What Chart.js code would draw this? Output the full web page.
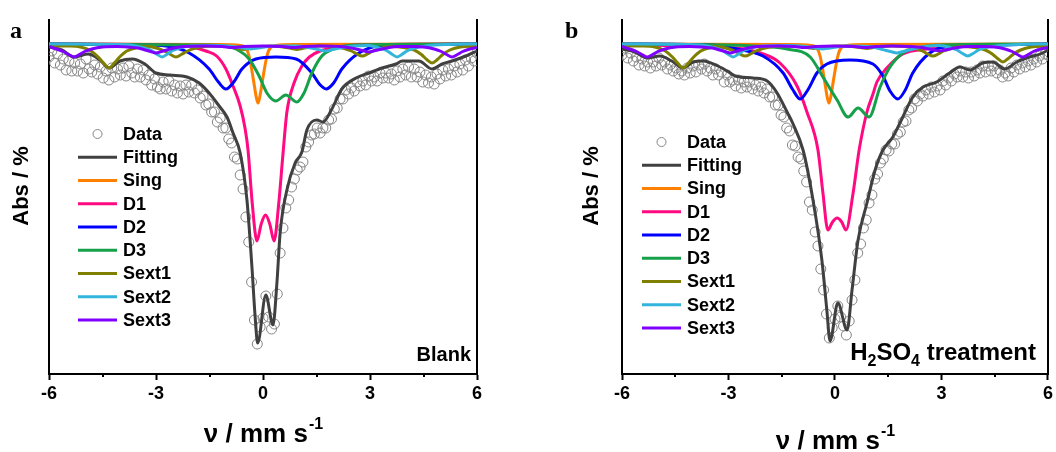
<!DOCTYPE html>
<html>
<head>
<meta charset="utf-8">
<script src="https://cdn.jsdelivr.net/npm/chart.js@4.4.1/dist/chart.umd.min.js"></script>
<style>
  body { margin: 0; background: #fff; width: 1056px; height: 452px; position: relative; overflow: hidden; }
  .panel { position: absolute; top: 0; width: 528px; height: 452px; }
</style>
</head>
<body>
<div class="panel" style="left:0"><canvas id="chartA"></canvas></div>
<div class="panel" style="left:528px"><canvas id="chartB"></canvas></div>
<script>
// velocity channels (mm/s) shared by both measured spectra
const velocity = [
  -6,-5.92,-5.84,-5.76,-5.68,-5.6,-5.52,-5.44,-5.36,-5.28,
  -5.2,-5.12,-5.04,-4.96,-4.88,-4.8,-4.72,-4.64,-4.56,-4.48,
  -4.4,-4.32,-4.24,-4.16,-4.08,-4,-3.92,-3.84,-3.76,-3.68,
  -3.6,-3.52,-3.44,-3.36,-3.28,-3.2,-3.12,-3.04,-2.96,-2.88,
  -2.8,-2.72,-2.64,-2.56,-2.48,-2.4,-2.32,-2.24,-2.16,-2.08,
  -2,-1.92,-1.84,-1.76,-1.68,-1.6,-1.52,-1.44,-1.36,-1.28,
  -1.2,-1.12,-1.04,-0.96,-0.88,-0.8,-0.72,-0.64,-0.56,-0.48,
  -0.4,-0.32,-0.24,-0.16,-0.08,0,0.08,0.16,0.24,0.32,
  0.4,0.48,0.56,0.64,0.72,0.8,0.88,0.96,1.04,1.12,
  1.2,1.28,1.36,1.44,1.52,1.6,1.68,1.76,1.84,1.92,
  2,2.08,2.16,2.24,2.32,2.4,2.48,2.56,2.64,2.72,
  2.8,2.88,2.96,3.04,3.12,3.2,3.28,3.36,3.44,3.52,
  3.6,3.68,3.76,3.84,3.92,4,4.08,4.16,4.24,4.32,
  4.4,4.48,4.56,4.64,4.72,4.8,4.88,4.96,5.04,5.12,
  5.2,5.28,5.36,5.44,5.52,5.6,5.68,5.76,5.84,5.92,
  6
];

// measured absorption (%), panel a: Blank
const dataBlank = [
  0.13,0.07,0.19,0.10,0.21,0.15,0.26,0.17,0.27,0.19,
  0.27,0.20,0.29,0.15,0.25,0.28,0.21,0.30,0.23,0.34,
  0.27,0.36,0.24,0.33,0.25,0.31,0.24,0.32,0.22,0.29,
  0.33,0.25,0.33,0.26,0.36,0.31,0.41,0.35,0.43,0.45,
  0.38,0.45,0.37,0.47,0.41,0.49,0.42,0.50,0.41,0.48,
  0.41,0.49,0.46,0.54,0.52,0.61,0.60,0.68,0.68,0.78,
  0.74,0.84,0.84,0.95,0.99,1.13,1.15,1.31,1.45,1.73,
  1.98,2.38,2.76,3.00,2.83,2.74,2.52,2.73,2.85,2.80,
  2.50,2.09,1.84,1.64,1.56,1.43,1.35,1.26,1.23,1.18,
  1.03,0.98,0.91,0.90,0.84,0.89,0.84,0.84,0.76,0.75,
  0.65,0.64,0.55,0.55,0.46,0.50,0.44,0.47,0.38,0.42,
  0.37,0.41,0.32,0.37,0.33,0.37,0.29,0.34,0.29,0.34,
  0.30,0.36,0.27,0.33,0.25,0.31,0.23,0.33,0.25,0.33,
  0.28,0.38,0.31,0.39,0.33,0.40,0.30,0.35,0.26,0.32,
  0.25,0.31,0.22,0.28,0.20,0.26,0.16,0.22,0.14,0.17,
  0.09
];

// measured absorption (%), panel b: H2SO4 treatment
const dataAcid = [
  0.11,0.04,0.14,0.09,0.17,0.13,0.21,0.15,0.22,0.18,
  0.24,0.18,0.22,0.14,0.21,0.18,0.25,0.21,0.27,0.24,
  0.30,0.27,0.31,0.24,0.29,0.22,0.28,0.21,0.25,0.20,
  0.27,0.24,0.31,0.25,0.31,0.28,0.38,0.31,0.38,0.36,
  0.42,0.36,0.44,0.38,0.43,0.38,0.45,0.41,0.47,0.43,
  0.49,0.45,0.53,0.53,0.61,0.61,0.71,0.73,0.84,0.87,
  1.01,1.02,1.13,1.15,1.27,1.38,1.58,1.66,1.88,2.02,
  2.25,2.46,2.70,2.94,2.84,2.75,2.62,2.73,2.82,2.91,
  2.77,2.56,2.36,2.09,2.00,1.84,1.76,1.59,1.51,1.35,
  1.30,1.19,1.15,1.06,1.07,1.00,1.00,0.90,0.88,0.78,
  0.77,0.66,0.64,0.55,0.57,0.50,0.52,0.46,0.50,0.43,
  0.48,0.42,0.46,0.37,0.41,0.34,0.37,0.30,0.33,0.27,
  0.33,0.28,0.34,0.28,0.32,0.26,0.29,0.22,0.28,0.22,
  0.27,0.22,0.29,0.26,0.33,0.29,0.32,0.24,0.28,0.21,
  0.25,0.19,0.23,0.17,0.21,0.15,0.18,0.12,0.15,0.10,
  0.11
];

// fitted curves, [velocity, absorption %]
const fitBlank = [[-6,0.03],[-5.64,0.06],[-5.3,0.13],[-4.9,0.10],[-4.57,0.16],[-4.32,0.24],[-4.01,0.17],[-3.67,0.15],[-3.31,0.20],[-3.0,0.29],[-2.61,0.31],[-2.13,0.33],[-1.79,0.39],[-1.51,0.49],[-1.23,0.62],[-1.01,0.73],[-0.84,0.89],[-0.64,1.09],[-0.45,1.56],[-0.31,2.23],[-0.22,2.73],[-0.15,2.99],[0.08,2.51],[0.28,2.81],[0.39,2.39],[0.48,1.89],[0.67,1.46],[0.9,1.19],[1.09,1.08],[1.23,0.86],[1.51,0.76],[1.68,0.78],[1.93,0.65],[2.21,0.45],[2.61,0.34],[2.97,0.29],[3.34,0.24],[3.73,0.20],[3.9,0.17],[4.37,0.17],[4.74,0.25],[5.02,0.20],[5.3,0.17],[5.69,0.12],[6,0.07]];
const singBlank = [[-6,0],[-1.2,0.005],[-0.64,0.015],[-0.48,0.04],[-0.39,0.12],[-0.31,0.27],[-0.25,0.40],[-0.19,0.53],[-0.14,0.59],[-0.09,0.53],[-0.03,0.40],[0.03,0.27],[0.11,0.12],[0.2,0.04],[0.36,0.015],[0.9,0.005],[6,0]];
const d1Blank = [[-6,0],[-2.5,0.01],[-2.0,0.03],[-1.6,0.07],[-1.3,0.12],[-1.04,0.25],[-0.84,0.42],[-0.64,0.62],[-0.5,0.85],[-0.42,1.06],[-0.3,1.60],[-0.17,1.97],[-0.05,1.80],[0.07,1.71],[0.19,1.80],[0.31,1.97],[0.44,1.60],[0.56,1.10],[0.67,0.68],[0.87,0.39],[1.09,0.22],[1.3,0.13],[1.6,0.07],[2.0,0.04],[2.6,0.01],[6,0]];
const d2Blank = [[-6,0],[-3.5,0.01],[-2.72,0.02],[-2.07,0.09],[-1.51,0.25],[-1.25,0.38],[-1.04,0.45],[-0.82,0.38],[-0.59,0.25],[-0.2,0.15],[0.36,0.13],[0.93,0.15],[1.37,0.29],[1.58,0.40],[1.77,0.45],[1.98,0.39],[2.21,0.25],[2.69,0.09],[3.25,0.02],[4,0.01],[6,0]];
const d3Blank = [[-6,0],[-1.8,0.01],[-1.1,0.02],[-0.76,0.05],[-0.39,0.15],[-0.11,0.32],[0.11,0.49],[0.36,0.57],[0.64,0.51],[0.95,0.58],[1.15,0.49],[1.37,0.29],[1.65,0.12],[2.05,0.04],[2.6,0.01],[6,0]];
const sext1Blank = [[-6,0.015],[-5.5,0.02],[-5.12,0.03],[-4.82,0.07],[-4.62,0.13],[-4.47,0.19],[-4.32,0.24],[-4.17,0.19],[-4.02,0.13],[-3.82,0.07],[-3.52,0.035],[-3.24,0.025],[-2.94,0.045],[-2.74,0.075],[-2.59,0.105],[-2.44,0.13],[-2.29,0.105],[-2.14,0.075],[-1.94,0.045],[-1.64,0.025],[-1.2,0.02],[-0.85,0.035],[-0.7,0.045],[-0.55,0.055],[-0.4,0.045],[-0.25,0.035],[0.2,0.02],[0.65,0.035],[0.8,0.045],[0.95,0.055],[1.1,0.045],[1.25,0.035],[1.6,0.02],[1.98,0.025],[2.28,0.045],[2.48,0.07],[2.63,0.10],[2.78,0.12],[2.93,0.10],[3.08,0.07],[3.28,0.045],[3.58,0.025],[3.94,0.035],[4.24,0.06],[4.44,0.105],[4.59,0.155],[4.74,0.19],[4.89,0.155],[5.04,0.105],[5.24,0.06],[5.54,0.03],[6,0.02]];
const sext2Blank = [[-6,0],[-4.2,0.005],[-3.63,0.015],[-3.33,0.04],[-3.13,0.065],[-2.98,0.10],[-2.83,0.13],[-2.68,0.10],[-2.53,0.065],[-2.33,0.04],[-2.03,0.02],[-1.3,0.015],[-0.85,0.025],[-0.65,0.035],[-0.5,0.043],[-0.35,0.05],[-0.2,0.043],[-0.05,0.035],[0.35,0.02],[0.95,0.02],[1.25,0.035],[1.45,0.048],[1.6,0.06],[1.75,0.07],[1.9,0.06],[2.05,0.048],[2.25,0.035],[2.55,0.02],[2.96,0.015],[3.26,0.04],[3.46,0.065],[3.61,0.10],[3.76,0.13],[3.91,0.10],[4.06,0.065],[4.26,0.04],[4.56,0.02],[5.2,0.005],[6,0]];
const sext3Blank = [[-6,0.025],[-5.8,0.05],[-5.6,0.075],[-5.45,0.105],[-5.3,0.13],[-5.15,0.105],[-5.0,0.075],[-4.8,0.05],[-4.5,0.03],[-4.1,0.025],[-3.8,0.03],[-3.5,0.04],[-3.3,0.06],[-3.15,0.075],[-3.0,0.09],[-2.85,0.075],[-2.7,0.06],[-2.5,0.04],[-2.2,0.025],[-1.6,0.02],[-1.15,0.025],[-0.85,0.035],[-0.55,0.025],[0,0.02],[0.55,0.025],[0.85,0.035],[1.15,0.025],[1.6,0.02],[2.17,0.025],[2.47,0.04],[2.67,0.055],[2.82,0.068],[2.97,0.08],[3.12,0.068],[3.27,0.055],[3.47,0.04],[3.77,0.025],[4.2,0.025],[4.5,0.03],[4.8,0.05],[5.0,0.075],[5.15,0.105],[5.3,0.13],[5.45,0.105],[5.6,0.075],[5.8,0.05],[6,0.035]];

const fitAcid = [[-6,0.05],[-5.64,0.08],[-5.29,0.14],[-4.93,0.12],[-4.6,0.17],[-4.28,0.24],[-3.99,0.18],[-3.71,0.17],[-3.3,0.22],[-3.04,0.27],[-2.81,0.32],[-2.31,0.34],[-1.91,0.37],[-1.63,0.49],[-1.35,0.68],[-1.18,0.80],[-0.9,1.06],[-0.62,1.56],[-0.37,2.16],[-0.23,2.66],[-0.14,2.97],[0.08,2.59],[0.34,2.86],[0.48,2.46],[0.65,1.96],[0.9,1.59],[1.13,1.26],[1.35,1.06],[1.63,0.93],[1.91,0.73],[2.19,0.53],[2.48,0.43],[2.87,0.38],[3.23,0.29],[3.52,0.23],[3.8,0.26],[4.16,0.19],[4.44,0.18],[4.78,0.25],[5.12,0.18],[5.4,0.14],[5.85,0.09],[6,0.06]];
const singAcid = [[-6,0],[-1.23,0.005],[-0.67,0.015],[-0.51,0.04],[-0.42,0.12],[-0.34,0.27],[-0.28,0.40],[-0.22,0.53],[-0.17,0.59],[-0.12,0.53],[-0.06,0.40],[0.0,0.27],[0.08,0.12],[0.17,0.04],[0.33,0.015],[0.87,0.005],[6,0]];
const d1Acid = [[-6,0.01],[-2.76,0.04],[-2.1,0.09],[-1.55,0.19],[-1.07,0.42],[-0.79,0.68],[-0.48,1.06],[-0.34,1.49],[-0.2,1.86],[-0.07,1.78],[0.06,1.74],[0.19,1.78],[0.31,1.86],[0.51,1.49],[0.68,1.06],[0.9,0.68],[1.07,0.50],[1.18,0.38],[1.46,0.24],[1.91,0.10],[2.59,0.05],[3.5,0.02],[6,0]];
const d2Acid = [[-6,0],[-3.5,0.01],[-2.76,0.05],[-2.03,0.12],[-1.46,0.29],[-1.2,0.45],[-0.98,0.55],[-0.75,0.45],[-0.51,0.29],[-0.23,0.20],[0.42,0.16],[1.07,0.20],[1.35,0.32],[1.55,0.47],[1.77,0.55],[1.98,0.46],[2.19,0.29],[2.67,0.09],[3.23,0.02],[4,0.01],[6,0]];
const d3Acid = [[-6,0],[-2.3,0.02],[-1.35,0.05],[-0.7,0.13],[-0.34,0.33],[0.06,0.56],[0.37,0.73],[0.65,0.64],[0.96,0.73],[1.27,0.43],[1.55,0.23],[1.91,0.09],[2.3,0.04],[3,0.01],[6,0]];
const sext1Acid = [[-6,0.015],[-5.5,0.02],[-5.08,0.03],[-4.78,0.07],[-4.58,0.13],[-4.43,0.19],[-4.28,0.24],[-4.13,0.19],[-3.98,0.13],[-3.78,0.07],[-3.5,0.035],[-3.33,0.025],[-3.03,0.045],[-2.83,0.07],[-2.68,0.10],[-2.53,0.12],[-2.38,0.10],[-2.23,0.07],[-2.03,0.045],[-1.73,0.025],[-1.25,0.02],[-0.9,0.03],[-0.75,0.037],[-0.6,0.045],[-0.45,0.037],[-0.3,0.03],[0.15,0.02],[0.6,0.03],[0.75,0.037],[0.9,0.045],[1.05,0.037],[1.2,0.03],[1.6,0.02],[1.96,0.025],[2.26,0.045],[2.46,0.07],[2.61,0.10],[2.76,0.12],[2.91,0.10],[3.06,0.07],[3.26,0.045],[3.56,0.025],[3.93,0.035],[4.23,0.06],[4.43,0.10],[4.58,0.145],[4.73,0.18],[4.88,0.145],[5.03,0.10],[5.23,0.06],[5.53,0.03],[6,0.02]];
const sext2Acid = [[-6,0],[-4.2,0.005],[-3.67,0.015],[-3.37,0.04],[-3.17,0.065],[-3.02,0.10],[-2.87,0.13],[-2.72,0.10],[-2.57,0.065],[-2.37,0.04],[-2.07,0.02],[-1.3,0.015],[-0.85,0.025],[-0.65,0.035],[-0.5,0.043],[-0.35,0.05],[-0.2,0.043],[-0.05,0.035],[0.35,0.02],[0.94,0.025],[1.24,0.045],[1.44,0.065],[1.59,0.077],[1.74,0.09],[1.89,0.077],[2.04,0.065],[2.24,0.045],[2.54,0.025],[2.94,0.015],[3.24,0.035],[3.44,0.06],[3.59,0.095],[3.74,0.12],[3.89,0.095],[4.04,0.06],[4.24,0.035],[4.54,0.02],[5.2,0.005],[6,0]];
const sext3Acid = [[-6,0.025],[-5.79,0.05],[-5.59,0.075],[-5.44,0.105],[-5.29,0.13],[-5.14,0.105],[-4.99,0.075],[-4.79,0.05],[-4.49,0.03],[-4.1,0.025],[-3.75,0.03],[-3.45,0.04],[-3.25,0.06],[-3.1,0.075],[-2.95,0.09],[-2.8,0.075],[-2.65,0.06],[-2.45,0.04],[-2.15,0.025],[-1.6,0.02],[-1.15,0.025],[-0.85,0.035],[-0.55,0.025],[0,0.02],[0.55,0.025],[0.85,0.035],[1.15,0.025],[1.6,0.02],[2.15,0.025],[2.45,0.035],[2.65,0.05],[2.8,0.06],[2.95,0.07],[3.1,0.06],[3.25,0.05],[3.45,0.035],[3.75,0.025],[4.2,0.025],[4.49,0.03],[4.79,0.05],[4.99,0.075],[5.14,0.105],[5.29,0.13],[5.44,0.105],[5.59,0.075],[5.79,0.05],[6,0.035]];

const seriesNames = ['Data', 'Fitting', 'Sing', 'D1', 'D2', 'D3', 'Sext1', 'Sext2', 'Sext3'];
const seriesColors = ['#858585', '#404040', '#ff8000', '#ff0a80', '#0000ff', '#17a04a', '#808000', '#32b4dc', '#8000ff'];
const xTicks = [-6, -3, 0, 3, 6];
const minorTicks = [-4.5, -1.5, 1.5, 4.5];

const SANS = '"Liberation Sans", Arial, Helvetica, sans-serif';

function toXY(pairs) { return pairs.map(p => ({ x: p[0], y: p[1] })); }

const decor = {
  id: 'decor',
  afterDraw(chart, args, o) {
    const ctx = chart.ctx;
    const xs = chart.scales.x;
    ctx.save();
    // minor ticks
    ctx.strokeStyle = '#000';
    ctx.lineWidth = 2;
    minorTicks.forEach(v => {
      const px = Math.round(xs.getPixelForValue(v));
      ctx.beginPath(); ctx.moveTo(px, xs.top); ctx.lineTo(px, xs.top + 3); ctx.stroke();
    });
    ctx.fillStyle = '#000';
    // panel letter
    ctx.font = 'bold 24px "Liberation Serif", "Times New Roman", serif';
    ctx.textAlign = 'left';
    ctx.textBaseline = 'alphabetic';
    ctx.fillText(o.letter, o.letterX, 38);
    // y title
    ctx.save();
    ctx.translate(o.yTitleX, 186);
    ctx.rotate(-Math.PI / 2);
    ctx.font = 'bold 22px ' + SANS;
    ctx.textAlign = 'center';
    ctx.textBaseline = 'middle';
    ctx.fillText('Abs / %', 0, 0);
    ctx.restore();
    // x title with superscript
    const main = 'ν / mm s', sup = '-1';
    ctx.font = 'bold 26px ' + SANS;
    const wMain = ctx.measureText(main).width;
    ctx.font = 'bold 16px ' + SANS;
    const wSup = ctx.measureText(sup).width;
    const cx = (xs.left + xs.right) / 2;
    let tx = cx - (wMain + wSup) / 2;
    ctx.font = 'bold 26px ' + SANS;
    ctx.fillText(main, tx, o.xTitleY);
    ctx.font = 'bold 16px ' + SANS;
    ctx.fillText(sup, tx + wMain + 1, o.xTitleY - 13);
    // legend
    const ds = chart.data.datasets;
    ctx.font = 'bold 18px ' + SANS;
    ctx.textBaseline = 'middle';
    ds.forEach((d, i) => {
      const y = o.legendY + i * 23.25;
      if (d.showLine === false) {
        ctx.strokeStyle = d.pointBorderColor;
        ctx.lineWidth = 1;
        ctx.beginPath();
        ctx.arc((o.legendX0 + o.legendX1) / 2, y, 4.5, 0, Math.PI * 2);
        ctx.stroke();
      } else {
        ctx.strokeStyle = d.borderColor;
        ctx.lineWidth = 3;
        ctx.beginPath(); ctx.moveTo(o.legendX0, y); ctx.lineTo(o.legendX1, y); ctx.stroke();
      }
      ctx.fillStyle = '#000';
      ctx.fillText(d.label, o.legendX1 + 6, y + 1);
    });
    // sample label (right aligned, with subscripts)
    ctx.textBaseline = 'alphabetic';
    const big = 'bold ' + o.sampleSize + 'px ' + SANS;
    const small = 'bold ' + Math.round(o.sampleSize * 0.65) + 'px ' + SANS;
    let total = 0;
    o.sample.forEach(s => { ctx.font = s[1] ? small : big; total += ctx.measureText(s[0]).width; });
    let sx = o.sampleRight - total;
    o.sample.forEach(s => {
      ctx.font = s[1] ? small : big;
      ctx.fillText(s[0], sx, o.sampleY + (s[1] ? 6 : 0));
      sx += ctx.measureText(s[0]).width;
    });
    ctx.restore();
  }
};

function makePanel(id, series, deco, areaLeft, padRight) {
  const datasets = [{
    label: seriesNames[0],
    data: velocity.map((v, i) => ({ x: v, y: series[0][i] })),
    showLine: false,
    pointRadius: 5,
    pointBorderWidth: 1,
    pointBorderColor: seriesColors[0],
    pointBackgroundColor: 'rgba(0,0,0,0)',
    borderColor: seriesColors[0],
    order: 9
  }];
  for (let i = 1; i < series.length; i++) {
    datasets.push({
      label: seriesNames[i],
      data: toXY(series[i]),
      borderColor: seriesColors[i],
      borderWidth: 3,
      pointRadius: 0,
      fill: false,
      cubicInterpolationMode: 'monotone',
      order: 9 - i
    });
  }
  return new Chart(document.getElementById(id), {
    type: 'line',
    data: { datasets },
    options: {
      responsive: true,
      maintainAspectRatio: false,
      animation: false,
      events: [],
      devicePixelRatio: 1,
      layout: { padding: { top: 20, right: padRight, bottom: 0, left: 0 } },
      plugins: { legend: { display: false }, tooltip: { enabled: false }, decor: deco },
      scales: {
        x: {
          type: 'linear', min: -6, max: 6,
          afterBuildTicks: s => { s.ticks = xTicks.map(v => ({ value: v })); },
          afterFit: s => { s.height = 78; },
          ticks: { color: '#000', font: { family: SANS, size: 18, weight: 'bold' }, padding: 3, maxRotation: 0 },
          grid: { display: true, drawOnChartArea: false, drawTicks: true, tickLength: 6, tickWidth: 2, tickColor: '#000' },
          border: { display: true, color: '#000', width: 2 }
        },
        y: {
          type: 'linear', reverse: true, min: -0.24, max: 3.30,
          afterFit: s => { s.width = areaLeft; },
          ticks: { display: false },
          grid: { display: false },
          border: { display: true, color: '#000', width: 2 }
        },
        y2: {
          type: 'linear', position: 'right', reverse: true, min: -0.24, max: 3.30,
          afterFit: s => { s.width = 0; },
          ticks: { display: false },
          grid: { display: false },
          border: { display: true, color: '#000', width: 2 }
        }
      }
    },
    plugins: [decor]
  });
}

makePanel('chartA',
  [dataBlank, fitBlank, singBlank, d1Blank, d2Blank, d3Blank, sext1Blank, sext2Blank, sext3Blank],
  { letter: 'a', letterX: 10, yTitleX: 22, xTitleY: 442, legendX0: 78, legendX1: 117, legendY: 134,
    sample: [['Blank', 0]], sampleSize: 20, sampleRight: 471, sampleY: 361 },
  49, 51);

makePanel('chartB',
  [dataAcid, fitAcid, singAcid, d1Acid, d2Acid, d3Acid, sext1Acid, sext2Acid, sext3Acid],
  { letter: 'b', letterX: 37, yTitleX: 64, xTitleY: 449, legendX0: 114, legendX1: 153, legendY: 142,
    sample: [['H', 0], ['2', 1], ['SO', 0], ['4', 1], [' treatment', 0]], sampleSize: 24, sampleRight: 508, sampleY: 360 },
  94, 8);
</script>
</body>
</html>
